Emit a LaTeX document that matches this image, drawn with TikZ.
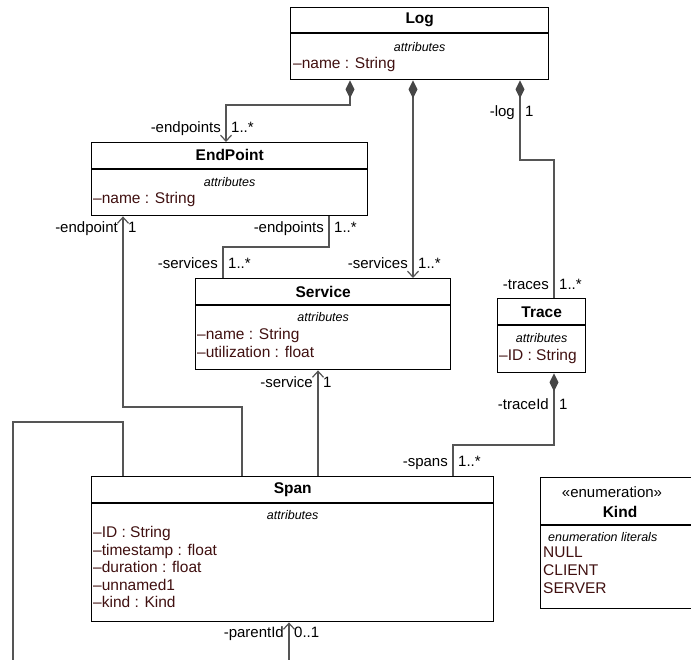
\documentclass[tikz,border=0pt]{standalone}
\usepackage{fontspec}
\setmainfont{Liberation Sans}
\usetikzlibrary{arrows.meta,positioning}
\definecolor{attrcol}{RGB}{64,16,16}
\definecolor{linecol}{RGB}{85,85,85}
\definecolor{tipcol}{RGB}{70,70,70}

\begin{document}
\begin{tikzpicture}[x=1pt,y=-1pt,
    class box/.style={draw=black,line width=1.4pt,rectangle,inner sep=0pt,anchor=north west},
    class name/.style={font=\fontsize{15.5}{18}\selectfont\bfseries,inner sep=0pt},
    attr head/.style={font=\fontsize{12.5}{15}\selectfont\itshape,inner sep=0pt},
    attr list/.style={font=\fontsize{15.5}{17.6}\selectfont,text=attrcol,align=left,anchor=north west,inner sep=0pt},
    role/.style={font=\fontsize{15}{18}\selectfont,inner sep=0pt},
    assoc/.style={draw=linecol,line width=1.2pt},
    whole/.style={assoc,{Diamond[length=18pt,width=9pt,fill=tipcol,color=tipcol]}-},
    whole nav/.style={assoc,{Diamond[length=18pt,width=9pt,fill=tipcol,color=tipcol]}-{Straight Barb[length=6pt,width=11pt]}},
    nav/.style={assoc,-{Straight Barb[length=6pt,width=11pt]}}]
  \useasboundingbox (0,0) rectangle (691,660);
  \clip (0,0) rectangle (691,660);

  % classes
  \node[class box,minimum width=258pt,minimum height=72pt] (log) at (290,7) {};
  \draw[line width=1.4pt] (log.west |- 0,33) -- (log.east |- 0,33);
  \node[class name] (logname) at (log.north |- 0,20) {Log};
  \node[attr head] (logattr) at (log.north |- 0,47) {attributes};
  \node[attr list] (logvars) at (293,57) {–name : String};

  \node[class box,minimum width=276pt,minimum height=73pt] (endpoint) at (91,142) {};
  \draw[line width=1.4pt] (endpoint.west |- 0,169) -- (endpoint.east |- 0,169);
  \node[class name] (endpointname) at (endpoint.north |- 0,155) {EndPoint};
  \node[attr head] (endpointattr) at (endpoint.north |- 0,182) {attributes};
  \node[attr list] (endpointvars) at (93,192) {–name : String};

  \node[class box,minimum width=255pt,minimum height=91pt] (service) at (195,278) {};
  \draw[line width=1.4pt] (service.west |- 0,305) -- (service.east |- 0,305);
  \node[class name] (servicename) at (service.north |- 0,292) {Service};
  \node[attr head] (serviceattr) at (service.north |- 0,317) {attributes};
  \node[attr list] (servicevars) at (197,328) {–name : String\\–utilization : float};

  \node[class box,minimum width=88pt,minimum height=74pt] (trace) at (497,298) {};
  \draw[line width=1.4pt] (trace.west |- 0,325) -- (trace.east |- 0,325);
  \node[class name] (tracename) at (trace.north |- 0,312) {Trace};
  \node[attr head] (traceattr) at (trace.north |- 0,338) {attributes};
  \node[attr list] (tracevars) at (499,349) {–ID : String};

  \node[class box,minimum width=402pt,minimum height=145pt] (span) at (91,476) {};
  \draw[line width=1.4pt] (span.west |- 0,503) -- (span.east |- 0,503);
  \node[class name] (spanname) at (span.north |- 0,490) {Span};
  \node[attr head] (spanattr) at (span.north |- 0,515) {attributes};
  \node[attr list] (spanvars) at (93,526)
    {–ID : String\\–timestamp : float\\–duration : float\\–unnamed1\\–kind : Kind};

  \node[class box,minimum width=154pt,minimum height=131pt] (kind) at (540,477) {};
  \draw[line width=1.4pt] (kind.west |- 0,525) -- (kind.east |- 0,525);
  \node[role] (kindstereo) at (612,492) {«enumeration»};
  \node[class name] (kindname) at (620,512) {Kind};
  \node[attr head,anchor=west] (kindattr) at (548,537) {enumeration literals};
  \node[attr list,text=attrcol] (kindvars) at (543,547) {NULL\\CLIENT\\SERVER};

  % associations
  \path[whole nav] (350,0 |- log.south) -- (350,105) -| (226,0 |- endpoint.north);
  \path[whole nav] (413,0 |- log.south) -- (413,0 |- service.north);
  \path[whole] (520,0 |- log.south) -- (520,160) -| (554,0 |- trace.north);
  \path[assoc] (329,0 |- endpoint.south) -- (329,247) -| (223,0 |- service.north);
  \path[nav] (242,0 |- span.north) -- (242,407) -| (123,0 |- endpoint.south);
  \path[nav] (318,0 |- span.north) -- (318,0 |- service.south);
  \path[whole] (554,0 |- trace.south) -- (554,445) -| (453,0 |- span.north);
  \path[nav] (123,0 |- span.north) -- (123,422) -- (13,422) -- (13,700)
    -- (289,700) -- (289,0 |- span.south);

  % role names and multiplicities
  \node[role,anchor=base east] (r1) at (221,133) {-endpoints};
  \node[role,anchor=base west] (m1) at (231,133) {1..*};
  \node[role,anchor=base east] (r2) at (408,269) {-services};
  \node[role,anchor=base west] (m2) at (418,269) {1..*};
  \node[role,anchor=base east] (r3) at (515,117) {-log};
  \node[role,anchor=base west] (m3) at (525,117) {1};
  \node[role,anchor=base east] (r4) at (549,290) {-traces};
  \node[role,anchor=base west] (m4) at (559,290) {1..*};
  \node[role,anchor=base east] (r5) at (324,233) {-endpoints};
  \node[role,anchor=base west] (m5) at (334,233) {1..*};
  \node[role,anchor=base east] (r6) at (218,269) {-services};
  \node[role,anchor=base west] (m6) at (228,269) {1..*};
  \node[role,anchor=base east] (r7) at (118,233) {-endpoint};
  \node[role,anchor=base west] (m7) at (128,233) {1};
  \node[role,anchor=base east] (r8) at (313,388) {-service};
  \node[role,anchor=base west] (m8) at (323,388) {1};
  \node[role,anchor=base east] (r9) at (549,409) {-traceId};
  \node[role,anchor=base west] (m9) at (559,409) {1};
  \node[role,anchor=base east] (r10) at (448,466) {-spans};
  \node[role,anchor=base west] (m10) at (458,466) {1..*};
  \node[role,anchor=base east] (r11) at (284,637) {-parentId};
  \node[role,anchor=base west] (m11) at (294,637) {0..1};
\end{tikzpicture}
\end{document}
